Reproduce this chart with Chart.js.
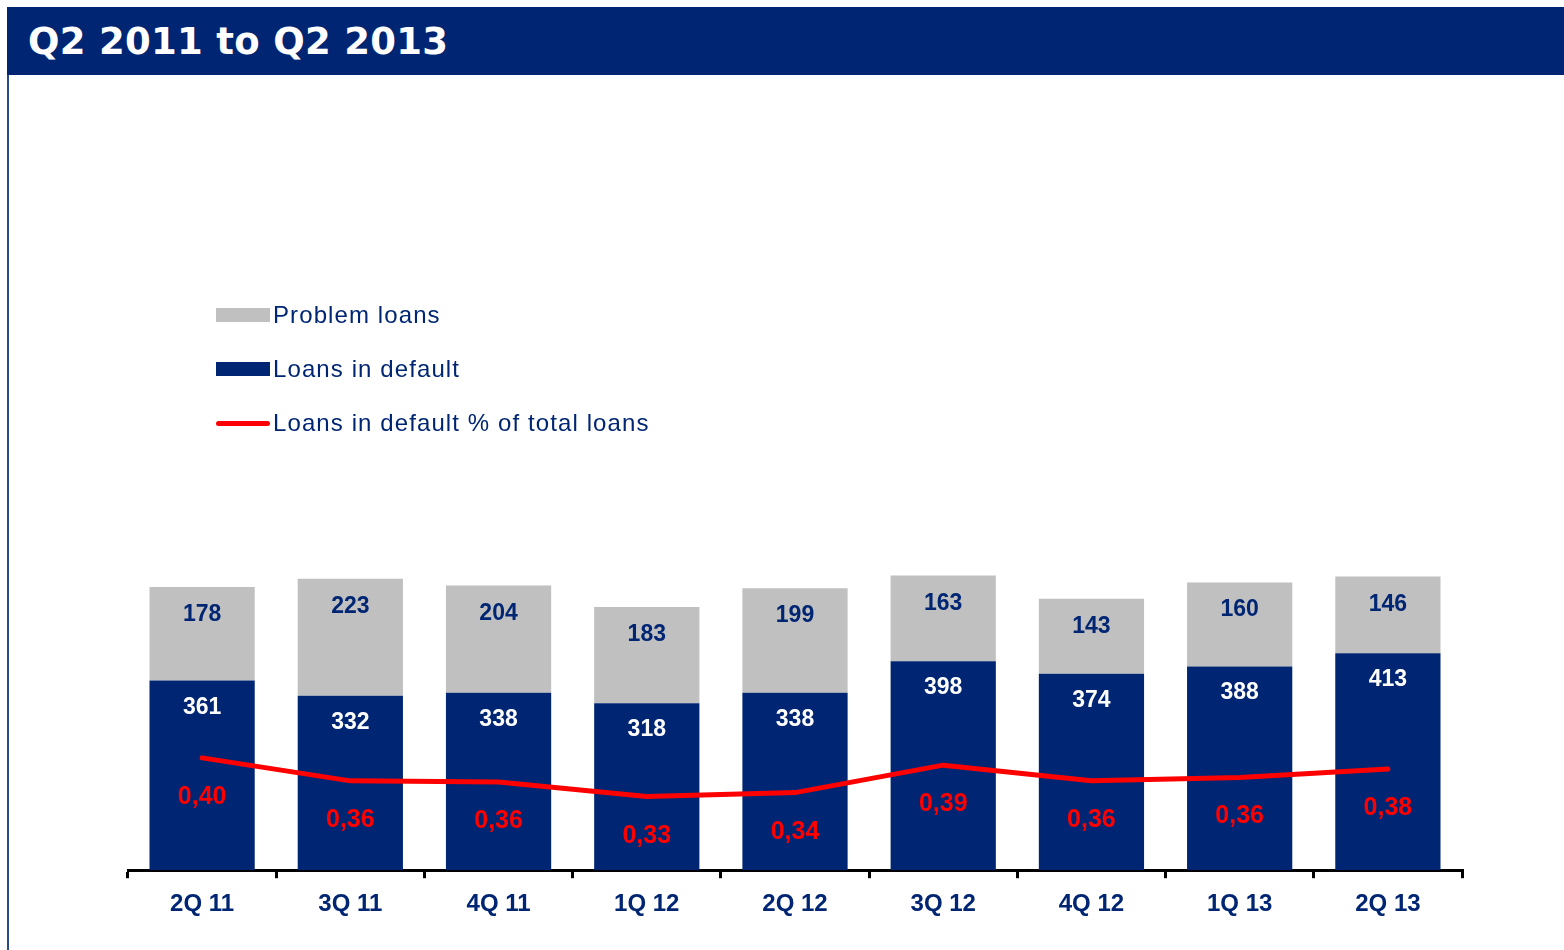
<!DOCTYPE html>
<html>
<head>
<meta charset="utf-8">
<title>Q2 2011 to Q2 2013</title>
<script src="https://cdn.jsdelivr.net/npm/chart.js@4.4.1/dist/chart.umd.min.js"></script>
<style>
    html, body { margin: 0; padding: 0; background: #fff; }
    body { width: 1564px; height: 950px; position: relative; overflow: hidden;
           font-family: "Liberation Sans", Arial, sans-serif; }
    #header { position: absolute; left: 7px; top: 7px; width: 1557px; height: 68px;
              background: #002673; color: #fff; box-sizing: border-box; padding: 2px 0 0 21px;
              font: bold 37px "DejaVu Sans", Verdana, sans-serif; line-height: 66px; letter-spacing: 0.3px; }
    #leftline { position: absolute; left: 7px; top: 75px; width: 2px; height: 875px; background: #2a4a90; }
    #chart { position: absolute; left: 0; top: 0; }
    #legend { position: absolute; left: 216px; top: 288px; }
    .item { display: flex; align-items: center; height: 54px; }
    .swatch { width: 54px; height: 14px; margin-right: 3px; }
    .swatch.line { height: 5px; border-radius: 3px; }
    .item span.txt { font-size: 24px; color: #002673; letter-spacing: 1.1px; line-height: 28px; }
</style>
</head>
<body>
<div id="header">Q2 2011 to Q2 2013</div>
<div id="leftline"></div>
<canvas id="chart" width="1564" height="950"></canvas>
<div id="legend"></div>
<script>
// values
var quarters = ['2Q 11', '3Q 11', '4Q 11', '1Q 12', '2Q 12', '3Q 12', '4Q 12', '1Q 13', '2Q 13'];
var in_default = [361, 332, 338, 318, 338, 398, 374, 388, 413];
var problem_loans = [178, 223, 204, 183, 199, 163, 143, 160, 146];
var default_pct = [0.399, 0.358, 0.356, 0.330, 0.337, 0.386, 0.358, 0.364, 0.379];

var NAVY = '#002673';
var GREY = '#c0c0c0';
var RED = '#ff0000';
var FONT = '"Liberation Sans", Arial, sans-serif';

// draws the numbers inside the bars and under the line
var valueLabels = {
    id: 'valueLabels',
    afterDatasetsDraw: function(chart) {
        var ctx = chart.ctx;
        ctx.save();
        ctx.textAlign = 'center';
        ctx.textBaseline = 'alphabetic';
        chart.data.datasets.forEach(function(ds, di) {
            var meta = chart.getDatasetMeta(di);
            meta.data.forEach(function(el, i) {
                var v = ds.data[i];
                if (ds.type === 'line') {
                    ctx.font = 'bold 25px ' + FONT;
                    ctx.fillStyle = RED;
                    ctx.fillText((Math.round(v * 100) / 100).toFixed(2).replace('.', ','), el.x, el.y + 46);
                } else if (ds.key === 'default') {
                    ctx.font = 'bold 23px ' + FONT;
                    ctx.fillStyle = '#ffffff';
                    ctx.fillText(v, el.x, el.y + 33);
                } else {
                    ctx.font = 'bold 23px ' + FONT;
                    ctx.fillStyle = NAVY;
                    ctx.fillText(v, el.x, el.y + 34);
                }
            });
        });
        ctx.restore();
    }
};

var ctx = document.getElementById('chart');
var myChart = new Chart(ctx, {
    type: 'bar',
    data: {
        labels: quarters,
        datasets: [{
            type: 'line',
            label: 'Loans in default % of total loans',
            data: default_pct,
            yAxisID: 'y2',
            borderColor: RED,
            backgroundColor: RED,
            borderWidth: 5,
            borderCapStyle: 'round',
            borderJoinStyle: 'round',
            pointRadius: 0,
            tension: 0,
            order: 0
        }, {
            key: 'default',
            label: 'Loans in default',
            data: in_default,
            backgroundColor: NAVY,
            stack: 'loans',
            order: 1
        }, {
            key: 'problem',
            label: 'Problem loans',
            data: problem_loans,
            backgroundColor: GREY,
            stack: 'loans',
            order: 1
        }]
    },
    options: {
        responsive: false,
        animation: false,
        devicePixelRatio: 1,
        layout: { padding: { left: 128, right: 102, top: 345, bottom: 19 } },
        plugins: {
            legend: { display: false },
            tooltip: { enabled: false }
        },
        datasets: {
            bar: { categoryPercentage: 1.0, barPercentage: 0.71 }
        },
        scales: {
            x: {
                stacked: true,
                offset: true,
                grid: { offset: true, drawOnChartArea: false, color: '#000', lineWidth: 3, tickLength: 8 },
                border: { color: '#000', width: 3 },
                ticks: { color: NAVY, padding: 12, font: { family: FONT, size: 24, weight: 'bold' } }
            },
            y: { stacked: true, display: false, min: 0, max: 1000 },
            y2: { display: false, min: 0.1985, max: 1.136 }
        }
    },
    plugins: [valueLabels]
});

// legend built from the datasets, in the order of the reference
var legendOrder = ['Problem loans', 'Loans in default', 'Loans in default % of total loans'];
var legendBox = document.getElementById('legend');
legendOrder.forEach(function(name) {
    var ds = myChart.data.datasets.find(function(d) { return d.label === name; });
    var item = document.createElement('div');
    item.className = 'item';
    var sw = document.createElement('span');
    sw.className = 'swatch' + (ds.type === 'line' ? ' line' : '');
    sw.style.background = ds.type === 'line' ? ds.borderColor : ds.backgroundColor;
    var txt = document.createElement('span');
    txt.className = 'txt';
    txt.textContent = name;
    item.appendChild(sw);
    item.appendChild(txt);
    legendBox.appendChild(item);
});
</script>
</body>
</html>
